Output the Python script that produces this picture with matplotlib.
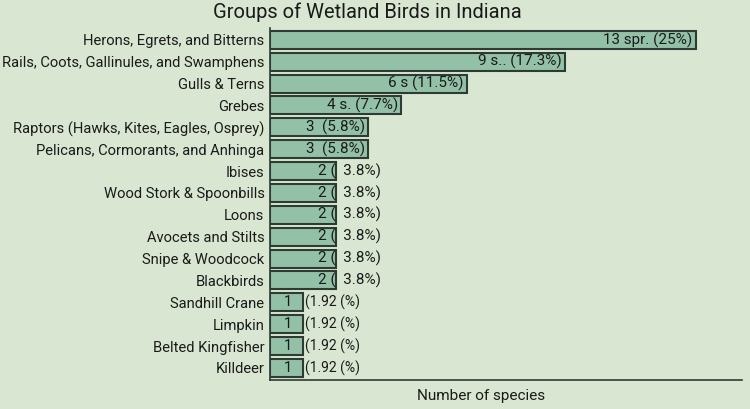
import matplotlib.pyplot as plt

plt.rcParams['font.family'] = ['Roboto', 'DejaVu Sans']

groups = [
    "Herons, Egrets, and Bitterns",
    "Rails, Coots, Gallinules, and Swamphens",
    "Gulls & Terns",
    "Grebes",
    "Raptors (Hawks, Kites, Eagles, Osprey)",
    "Pelicans, Cormorants, and Anhinga",
    "Ibises",
    "Wood Stork & Spoonbills",
    "Loons",
    "Avocets and Stilts",
    "Snipe & Woodcock",
    "Blackbirds",
    "Sandhill Crane",
    "Limpkin",
    "Belted Kingfisher",
    "Killdeer",
]
species = [13, 9, 6, 4, 3, 3, 2, 2, 2, 2, 2, 2, 1, 1, 1, 1]
bar_labels = [
    "13 spr. (25%)", "9 s.. (17.3%)", "6 s (11.5%)", "4 s. (7.7%)",
    "3  (5.8%)", "3  (5.8%)",
    "2 (  3.8%)", "2 (  3.8%)", "2 (  3.8%)", "2 (  3.8%)", "2 (  3.8%)", "2 (  3.8%)",
    "1", "1", "1", "1",
]
outside_labels = ["", "", "", "", "", "", "", "", "", "", "", "",
                  "(1.92 (%)", "(1.92 (%)", "(1.92 (%)", "(1.92 (%)"]

bg = '#d9e7d2'
ink = '#1a1a1a'
fig = plt.figure(figsize=(7.5, 4.09), dpi=100, facecolor=bg)
ax = fig.add_axes([0.36, 0.071, 0.629, 0.861], facecolor=bg)

y = list(range(len(groups)))
ax.barh(y, species, height=0.82, color='#93c1a7', edgecolor='#2e3b33', linewidth=1.5)

for i, v in enumerate(species):
    if v >= 3:
        ax.text(v - 0.1, i, bar_labels[i], ha='right', va='center', fontsize=11, color=ink)
    elif v == 2:
        ax.text(v - 0.53, i, bar_labels[i], ha='left', va='center', fontsize=11, color=ink)
    else:
        ax.text(v / 2 + 0.05, i, bar_labels[i], ha='center', va='center', fontsize=10.5, color=ink)
        ax.text(v + 0.07, i, outside_labels[i], ha='left', va='center', fontsize=10, color=ink)

ax.set_yticks(y)
ax.set_yticklabels(groups, fontsize=10.6, color=ink)
ax.tick_params(axis='y', length=0, pad=4)
ax.set_xticks([])
ax.set_xlim(0, 14.4)
ax.set_ylim(15.55, -0.55)

for s in ['top', 'right']:
    ax.spines[s].set_visible(False)
for s in ['left', 'bottom']:
    ax.spines[s].set_color('#2e3b33')
    ax.spines[s].set_linewidth(1.2)

ax.set_xlabel("Number of species", fontsize=11, color=ink)
ax.xaxis.set_label_coords(0.447, -0.025)
fig.suptitle("Groups of Wetland Birds in Indiana", x=0.49, y=0.995, va='top', fontsize=14.5, color=ink)

fig.savefig('out.png', dpi=100, facecolor=bg)
